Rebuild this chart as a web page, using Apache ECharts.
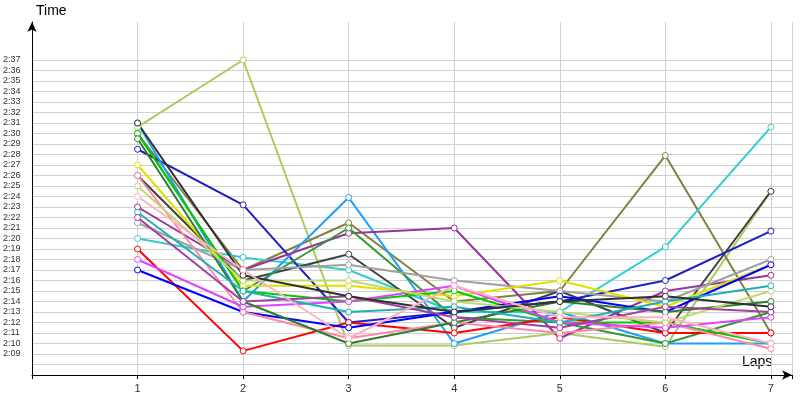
<!DOCTYPE html>
<html><head><meta charset="utf-8">
<script src="https://cdn.jsdelivr.net/npm/echarts@6/dist/echarts.min.js"></script>
<style>html,body{margin:0;padding:0;background:#fff}#main{width:800px;height:400px}</style>
</head><body><div id="main"></div>
<script>
// laps on the x axis
const laps = [1, 2, 3, 4, 5, 6, 7];
// lap times in seconds (2:09 = 129)
const colors = ['#a8cc60', '#808040', '#33cccc', '#404040', '#2020c0', '#1e9fff', '#993399', '#339933',
    '#ff0000', '#a0a0a0', '#e0e000', '#00cc00', '#0000ff', '#ff88aa', '#dd44ff', '#2d7d2d',
    '#c0d870', '#20b0b0', '#a040a0', '#303030', '#ffb0c0'];
const times = [
    [150.6, 157, 129.8, 129.8, 131, 129.7, 144.5],
    [150, 137, 141.5, 134, 135, 147.9, 131],
    [140, 138.2, 137, 133, 133, 139.2, 150.6],
    [146, 136, 138.5, 131.5, 135, 131, 144.5],
    [148.5, 143.2, 132, 133, 134, 136, 140.7],
    [151, 134, 143.9, 130, 133, 130, 130],
    [143, 137, 140.5, 141, 130.5, 135, 136.5],
    [150, 135, 141, 132.5, 132, 130, 133],
    [139, 129.3, 132, 131, 132.5, 131, 131],
    [141.5, 137, 137.5, 136, 135, 134, 138],
    [147, 135.5, 135.5, 134.5, 136, 133.5, 137.5],
    [150, 135, 134, 135, 132, 132, 130],
    [137, 133, 131.5, 133, 134.5, 133, 137.5],
    [146, 133, 130.5, 132, 131, 132, 129.5],
    [138, 133.5, 134, 135.5, 132, 131.5, 132.5],
    [149.5, 134, 130, 132, 134, 133, 134],
    [145, 136, 136, 134, 133, 132, 135],
    [142.5, 135, 133, 133.5, 132, 134, 135.5],
    [142, 134, 134.5, 132.5, 131.5, 133.5, 133],
    [151, 136.5, 134.5, 133, 134, 134.5, 133.5],
    [144, 137, 130.5, 135.5, 132.5, 132.5, 130]
];
const yTicks = { min: 129, max: 157 };

function fmt(s) {
    const m = Math.floor(s / 60), r = Math.round(s % 60);
    return m + ':' + (r < 10 ? '0' + r : r);
}

const chart = echarts.init(document.getElementById('main'));
const series = times.map(function (row, i) {
    return {
        type: 'line',
        xAxisIndex: 0, yAxisIndex: 0,
        data: row.map(function (v, j) { return [laps[j], v]; }),
        symbol: 'circle', symbolSize: 6,
        lineStyle: { width: 2, color: colors[i] },
        itemStyle: { color: '#fff', borderColor: colors[i], borderWidth: 1 },
        animation: false
    };
});

chart.setOption({
    animation: false,
    grid: [
        { left: 32, right: 8, top: 60, bottom: 25 },
        { left: 32, right: 8, top: 22, bottom: 25 }
    ],
    xAxis: [
        { gridIndex: 0, type: 'value', min: 0, max: 7.2, interval: 1, axisLine: { show: false },
          axisTick: { show: false }, axisLabel: { show: false }, splitLine: { show: false } },
        { gridIndex: 1, type: 'value', min: 0, max: 7.2, interval: 1,
          axisLine: { lineStyle: { color: '#000' }, symbol: ['none', 'arrow'], symbolSize: [7, 10] },
          axisTick: { length: 4, lineStyle: { color: '#000' } },
          axisLabel: { color: '#333', fontSize: 11, formatter: function (v) { return v >= 1 && v <= 7 ? v : ''; } },
          splitLine: { show: true, lineStyle: { color: '#d0d0d0' } } }
    ],
    yAxis: [
        { gridIndex: 0, type: 'value', min: 127, max: 157, interval: 1, axisLine: { show: false },
          axisTick: { show: false },
          axisLabel: { color: '#333', fontSize: 9, align: 'left', margin: 29,
              formatter: function (v) { return v >= yTicks.min && v <= yTicks.max ? fmt(v) : ''; } },
          splitLine: { lineStyle: { color: '#d0d0d0' } } },
        { gridIndex: 1, type: 'value', min: 0, max: 1,
          axisLine: { show: true, lineStyle: { color: '#000' }, symbol: ['none', 'arrow'], symbolSize: [7, 10] },
          axisTick: { show: false }, axisLabel: { show: false }, splitLine: { show: false } }
    ],
    graphic: [
        { type: 'text', left: 36, top: 4, style: { text: 'Time', fontSize: 14, fill: '#000' } },
        { type: 'text', left: 742, top: 355, style: { text: 'Laps', fontSize: 14, fill: '#000' } }
    ],
    series: series
});
</script>
</body></html>
